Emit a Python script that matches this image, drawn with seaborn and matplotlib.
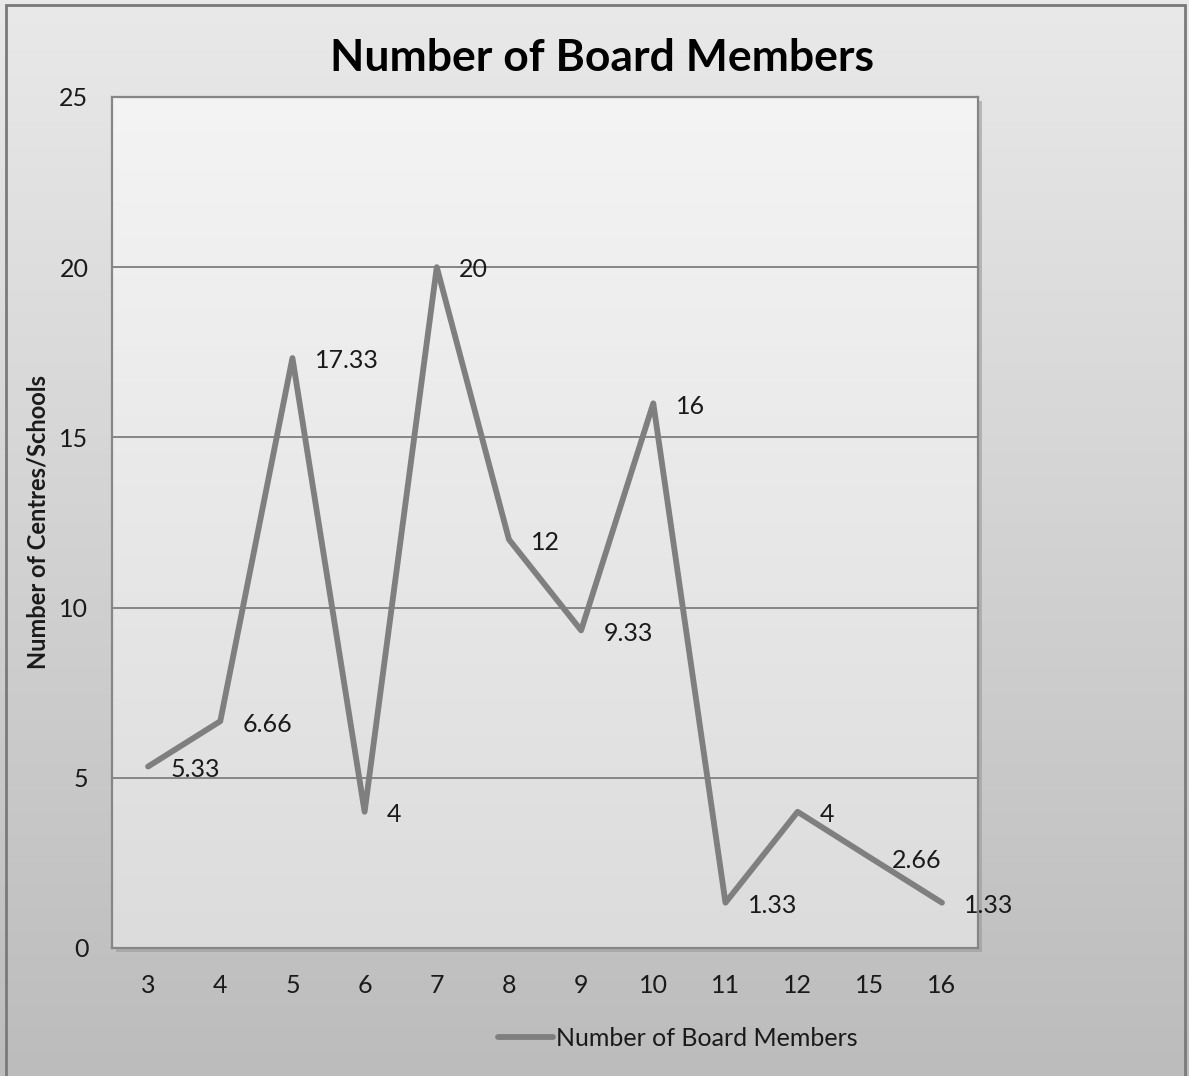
import numpy as np
import pandas as pd
import matplotlib.pyplot as plt
import seaborn as sns
from matplotlib.patches import Rectangle
from matplotlib.lines import Line2D

# data
board_sizes = ["3", "4", "5", "6", "7", "8", "9", "10", "11", "12", "15", "16"]
centres = [5.33, 6.66, 17.33, 4, 20, 12, 9.33, 16, 1.33, 4, 2.66, 1.33]
value_labels = ["5.33", "6.66", "17.33", "4", "20", "12", "9.33", "16", "1.33", "4", "2.66", "1.33"]
y_ticks = [0, 5, 10, 15, 20, 25]

SERIES = "Number of Board Members"
LINE_COLOR = "#7f7f7f"
GRID_COLOR = "#868686"

sns.set_theme(style="white")
plt.rcParams["font.family"] = ["Lato", "DejaVu Sans"]

df = pd.DataFrame({"size": board_sizes, "centres": centres})

fig = plt.figure(figsize=(11.89, 10.76), dpi=100)

# figure background: vertical grey gradient
bg = fig.add_axes([0, 0, 1, 1], zorder=-10)
grad = np.linspace(0, 1, 256).reshape(-1, 1)
bg.imshow(grad, cmap=sns.blend_palette(["#e9e9e9", "#bcbcbc"], as_cmap=True),
          aspect="auto", extent=[0, 1, 0, 1], origin="upper")
bg.set_xlim(0, 1)
bg.set_ylim(0, 1)
bg.axis("off")
bg.add_patch(Rectangle((0.005, -0.05), 0.992, 1.045, fill=False,
                       edgecolor="#7a7a7a", linewidth=2))

ax = fig.add_axes([0.0942, 0.1190, 0.7284, 0.7909])

# plot area gradient
ax.imshow(grad, cmap=sns.blend_palette(["#f4f4f4", "#dcdcdc"], as_cmap=True),
          aspect="auto", extent=[-0.5, 11.5, 0, 25], origin="upper", zorder=0)

sns.lineplot(data=df, x="size", y="centres", ax=ax, color=LINE_COLOR,
             linewidth=4.2, solid_capstyle="round", solid_joinstyle="round",
             sort=False, zorder=3)

for i, (v, lab) in enumerate(zip(centres, value_labels)):
    ax.annotate(lab, (i, v), xytext=(16, -2), textcoords="offset points",
                ha="left", va="center", fontsize=18, color="#1a1a1a", zorder=4)

ax.set_xlim(-0.5, 11.5)
ax.set_ylim(0, 25)
ax.set_yticks(y_ticks)
for y in y_ticks[1:-1]:
    ax.axhline(y, color=GRID_COLOR, linewidth=1.4, zorder=1)
for side in ax.spines.values():
    side.set_color(GRID_COLOR)
    side.set_linewidth(1.6)
ax.tick_params(axis="both", length=0, labelsize=18, colors="#1a1a1a")
ax.tick_params(axis="y", pad=17)
ax.tick_params(axis="x", pad=19)
ax.set_xlabel("")
ax.set_ylabel("")

# soft shadow under the plot area
fig.patches.append(Rectangle((0.0942 + 0.003, 0.1190 - 0.004), 0.7284, 0.7909,
                             transform=fig.transFigure, facecolor="#9a9a9a",
                             edgecolor="none", zorder=-5, alpha=0.6))

fig.text(0.506, 0.946, SERIES, ha="center", va="center",
         fontsize=32, fontweight="bold", color="black")
fig.text(0.032, 0.515, "Number of Centres/Schools", rotation=90,
         ha="center", va="center", fontsize=17, fontweight="bold", color="#1a1a1a")

handle = Line2D([], [], color=LINE_COLOR, linewidth=4.2, solid_capstyle="round")
fig.legend([handle], [SERIES], loc="center", bbox_to_anchor=(0.570, 0.035),
           frameon=False, fontsize=18, handlelength=2.2, handletextpad=0.15,
           labelcolor="#1a1a1a")

fig.savefig("out.png", dpi=100)
